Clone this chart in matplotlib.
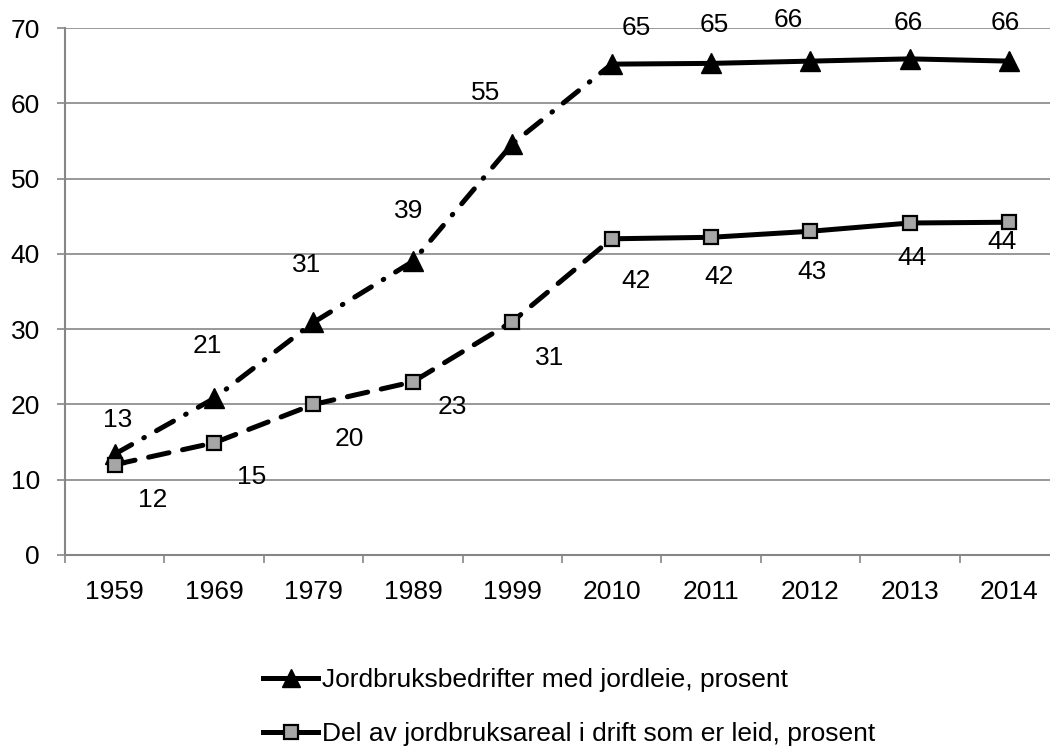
import numpy as np
import matplotlib
matplotlib.use("Agg")
import matplotlib.pyplot as plt
from matplotlib.lines import Line2D

plt.rcParams['font.family'] = ['Liberation Sans', 'DejaVu Sans']
plt.rcParams['lines.scale_dashes'] = False

# data
years = ['1959', '1969', '1979', '1989', '1999', '2010', '2011', '2012', '2013', '2014']
bedrifter = [13.4, 20.8, 30.9, 39.0, 54.6, 65.2, 65.3, 65.6, 65.9, 65.6]
bedrifter_labels = ['13', '21', '31', '39', '55', '65', '65', '66', '66', '66']
areal = [12.0, 14.9, 20.0, 23.0, 31.0, 42.0, 42.2, 43.0, 44.1, 44.2]
areal_labels = ['12', '15', '20', '23', '31', '42', '42', '43', '44', '44']
name_bedrifter = 'Jordbruksbedrifter med jordleie, prosent'
name_areal = 'Del av jordbruksareal i drift som er leid, prosent'

# label offsets in pixels (x right, y up), as placed in the original
off_bedrifter = [(3, 34), (-7, 52), (-7, 57), (-4, 50), (-27, 51),
                 (25, 36), (3, 38), (-22, 41), (-2, 36), (-4, 38)]
off_areal = [(38, -35), (38, -34), (36, -35), (39, -25), (37, -36),
             (24, -42), (8, -40), (2, -41), (2, -35), (-7, -20)]

fs = 19
fig = plt.figure(figsize=(10.5, 7.46), dpi=100)
ax = fig.add_axes([65 / 1050, 191 / 746, 994 / 1050, 527 / 746])

x = np.arange(len(years))
split = years.index('2010')
lw = 3.6
grid_c = '#868686'

# early period (dashed / dash-dot), then solid from 2010
ax.plot(x[:split + 1], bedrifter[:split + 1], color='black', lw=lw,
        dashes=(14, 10, 0.5, 10), dash_capstyle='round', zorder=3)
ax.plot(x[split:], bedrifter[split:], color='black', lw=lw,
        solid_capstyle='round', zorder=3)
ax.plot(x[:split + 1], areal[:split + 1], color='black', lw=lw,
        dashes=(15, 10), dash_capstyle='round', zorder=3)
ax.plot(x[split:], areal[split:], color='black', lw=lw,
        solid_capstyle='round', zorder=3)

ax.plot(x, bedrifter, ls='none', marker='^', ms=15, color='black', zorder=4)
ax.plot(x, areal, ls='none', marker='s', ms=10.5, mfc='#a6a6a6',
        mec='black', mew=1.6, zorder=5)

for i in range(len(years)):
    ax.annotate(bedrifter_labels[i], (x[i], bedrifter[i]), xytext=off_bedrifter[i],
                textcoords='offset pixels', ha='center', va='center', fontsize=fs,
                zorder=6)
    ax.annotate(areal_labels[i], (x[i], areal[i]), xytext=off_areal[i],
                textcoords='offset pixels', ha='center', va='center', fontsize=fs,
                zorder=6)

ax.set_xlim(-0.5, len(years) - 0.5)
ax.set_ylim(0, 70)
ax.set_yticks(range(0, 71, 10))
ax.set_xticks(x)
ax.set_xticklabels(years)
ax.set_xticks(np.arange(-0.5, len(years), 1), minor=True)
ax.tick_params(axis='x', which='major', length=0, pad=18, labelsize=fs)
ax.tick_params(axis='x', which='minor', length=6, width=1.2, color=grid_c,
               direction='out')
ax.tick_params(axis='y', length=6, width=1.2, color=grid_c, pad=12, labelsize=fs)

ax.grid(axis='y', color=grid_c, lw=1.2)
ax.set_axisbelow(True)
for s in ['top', 'right']:
    ax.spines[s].set_visible(False)
for s in ['left', 'bottom']:
    ax.spines[s].set_color(grid_c)
    ax.spines[s].set_linewidth(1.5)

handles = [
    Line2D([], [], color='black', lw=lw, marker='^', ms=13),
    Line2D([], [], color='black', lw=lw, marker='s', ms=10, mfc='#a6a6a6',
           mec='black', mew=1.6),
]
fig.legend(handles, [name_bedrifter, name_areal], loc='center left',
           bbox_to_anchor=(263 / 1050, 39 / 746), frameon=False, fontsize=fs,
           borderpad=0, borderaxespad=0, handlelength=2.1, handletextpad=0.12,
           labelspacing=1.15)

fig.savefig('out.png', dpi=100)
